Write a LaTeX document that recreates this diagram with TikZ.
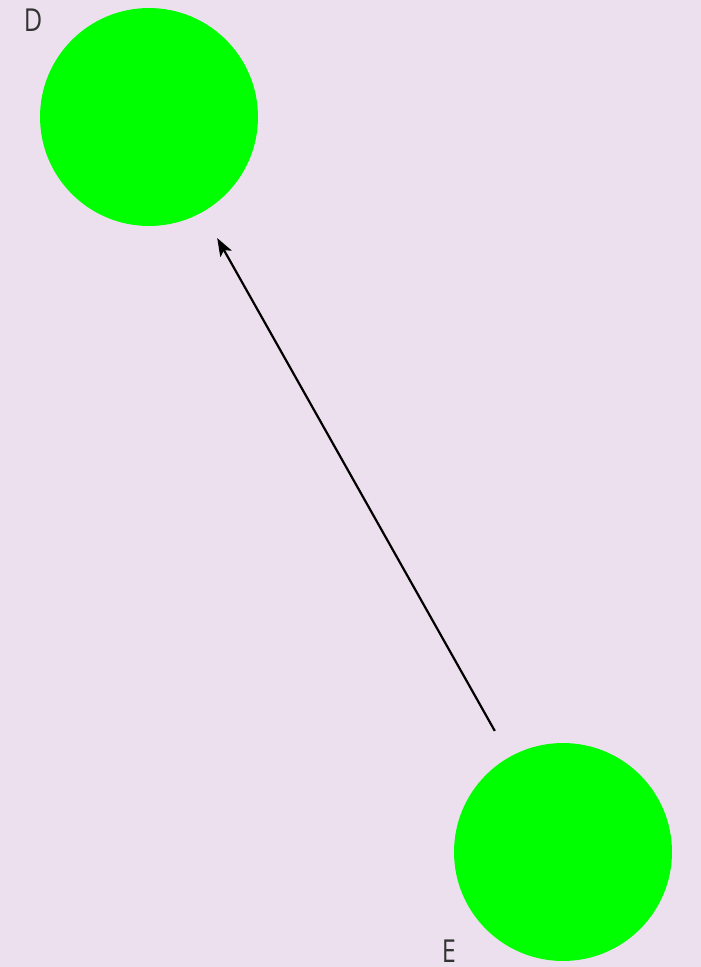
\documentclass[tikz,border=0pt]{standalone}
\usepackage{fontspec}
\setmainfont{Open Sans}
\usetikzlibrary{arrows.meta}

\definecolor{bgpink}{RGB}{237,224,238}
\definecolor{nodegreen}{RGB}{0,255,0}
\definecolor{labelgray}{RGB}{51,51,51}

\begin{document}
\begin{tikzpicture}[
  x=0.02cm, y=-0.02cm,
  font=\fontsize{18}{21}\selectfont,
  ball/.style={circle, fill=nodegreen, minimum size=4.36cm, inner sep=0pt, outer sep=0.6cm},
  tag/.style={text=labelgray, inner sep=0pt, font=\fontsize{18}{21}\selectfont\addfontfeatures{FakeStretch=0.8}},
  arrow/.style={-{Stealth[length=0.36cm, width=0.26cm, inset=0.08cm]}, line width=0.044cm, draw=black}
]

\useasboundingbox (0,0) rectangle (700,967);
\fill[bgpink] (-5,-5) rectangle (705,972);

\node[ball] (d) at (149,117) {};
\node[ball] (e) at (563,852) {};

\node[tag] (dlab) at (33,20) {D};
\node[tag] (elab) at (449,951) {E};

\draw[arrow] (e) -- (d);

\end{tikzpicture}
\end{document}
